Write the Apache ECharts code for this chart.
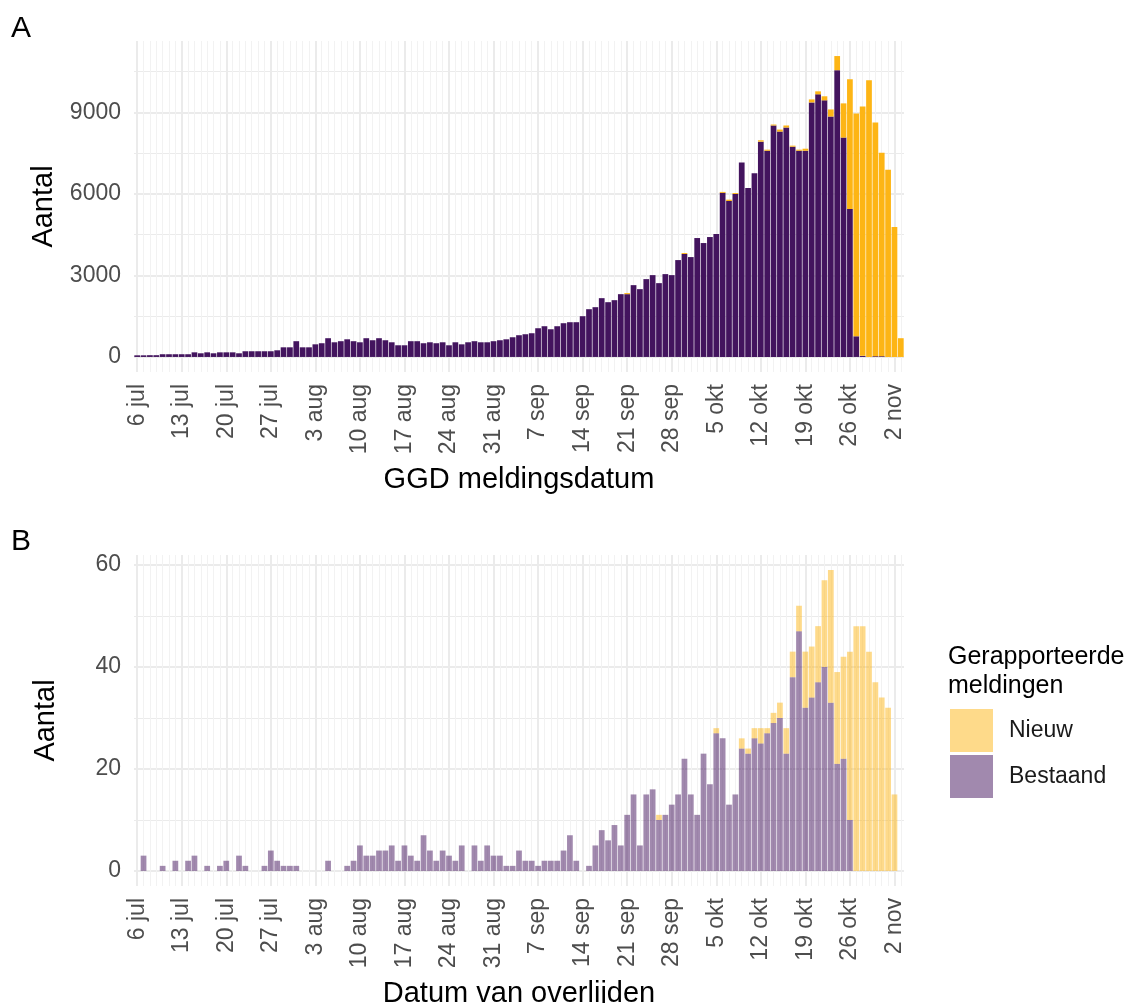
<!DOCTYPE html>
<html>
<head>
<meta charset="utf-8">
<script src="https://cdn.jsdelivr.net/npm/echarts@6/dist/echarts.min.js"></script>
<style>
  html, body { margin: 0; padding: 0; background: #ffffff; }
  #chart { width: 1140px; height: 1003px; }
</style>
</head>
<body>
<div id="chart"></div>
<script>
// Day categories (6 jul .. 3 nov)
const categories = [
  '6 jul','7 jul','8 jul','9 jul','10 jul','11 jul','12 jul','13 jul','14 jul','15 jul','16 jul','17 jul','18 jul','19 jul','20 jul','21 jul','22 jul','23 jul','24 jul','25 jul','26 jul','27 jul','28 jul','29 jul','30 jul','31 jul',
  '1 aug','2 aug','3 aug','4 aug','5 aug','6 aug','7 aug','8 aug','9 aug','10 aug','11 aug','12 aug','13 aug','14 aug','15 aug','16 aug','17 aug','18 aug','19 aug','20 aug','21 aug','22 aug','23 aug','24 aug','25 aug','26 aug','27 aug','28 aug','29 aug','30 aug','31 aug',
  '1 sep','2 sep','3 sep','4 sep','5 sep','6 sep','7 sep','8 sep','9 sep','10 sep','11 sep','12 sep','13 sep','14 sep','15 sep','16 sep','17 sep','18 sep','19 sep','20 sep','21 sep','22 sep','23 sep','24 sep','25 sep','26 sep','27 sep','28 sep','29 sep','30 sep',
  '1 okt','2 okt','3 okt','4 okt','5 okt','6 okt','7 okt','8 okt','9 okt','10 okt','11 okt','12 okt','13 okt','14 okt','15 okt','16 okt','17 okt','18 okt','19 okt','20 okt','21 okt','22 okt','23 okt','24 okt','25 okt','26 okt','27 okt','28 okt','29 okt','30 okt','31 okt',
  '1 nov','2 nov','3 nov'
];

// Panel A: cases by GGD report date
const casesBestaand = [
  60, 60, 65, 65, 100, 100, 100, 100, 100, 170,
  135, 170, 135, 170, 170, 170, 135, 210, 210, 210,
  210, 210, 245, 355, 355, 580, 355, 355, 465, 505,
  690, 540, 580, 650, 580, 540, 690, 615, 690, 615,
  540, 430, 430, 580, 580, 505, 540, 505, 540, 430,
  540, 465, 540, 580, 540, 540, 580, 615, 650, 725,
  800, 836, 873, 1057, 1131, 1020, 1131, 1242, 1279, 1279,
  1500, 1758, 1832, 2164, 2016, 2090, 2311, 2311, 2643, 2496,
  2865, 3012, 2717, 3049, 3012, 3566, 3790, 3676, 4377, 4193,
  4414, 4525, 6040, 5740, 6000, 7160, 6221, 6760, 7925, 7590,
  8520, 8295, 8445, 7740, 7590, 7590, 9370, 9667, 9445, 8850,
  10556, 8074, 5450, 760, 40, 0, 30, 30, 0, 0, 0
];
const casesNieuw = [
  0, 0, 0, 0, 0, 0, 0, 0, 0, 0,
  0, 0, 0, 0, 0, 0, 0, 0, 0, 0,
  0, 0, 0, 0, 0, 0, 0, 0, 0, 0,
  0, 0, 0, 0, 0, 0, 0, 0, 0, 0,
  0, 0, 0, 0, 0, 0, 0, 0, 0, 0,
  0, 0, 0, 0, 0, 0, 0, 0, 0, 0,
  0, 0, 0, 0, 0, 0, 0, 0, 0, 0,
  0, 0, 0, 0, 0, 0, 0, 40, 0, 0,
  0, 0, 0, 0, 0, 0, 35, 0, 0, 0,
  0, 0, 35, 50, 35, 0, 0, 0, 50, 40,
  35, 75, 75, 37, 40, 75, 110, 110, 150, 260,
  520, 1260, 4770, 8200, 9180, 10185, 8600, 7490, 6890, 4780, 690
];

// Panel B: deaths by date of death
const deathsBestaand = [
  0, 3, 0, 0, 1, 0, 2, 0, 2, 3,
  0, 1, 0, 1, 2, 0, 3, 1, 0, 0,
  1, 4, 2, 1, 1, 1, 0, 0, 0, 0,
  2, 0, 0, 1, 2, 5, 3, 3, 4, 4,
  5, 2, 5, 3, 2, 7, 4, 2, 4, 3,
  2, 5, 0, 5, 2, 5, 3, 3, 1, 1,
  4, 2, 2, 1, 2, 2, 2, 4, 7, 2,
  0, 1, 5, 8, 6, 9, 5, 11, 15, 5,
  15, 16, 10, 11, 13, 15, 22, 15, 11, 23,
  17, 27, 26, 13, 15, 24, 23, 26, 25, 27,
  29, 30, 23, 38, 47, 32, 34, 37, 40, 33,
  21, 22, 10, 0, 0, 0, 0, 0, 0, 0, 0
];
const deathsNieuw = [
  0, 0, 0, 0, 0, 0, 0, 0, 0, 0,
  0, 0, 0, 0, 0, 0, 0, 0, 0, 0,
  0, 0, 0, 0, 0, 0, 0, 0, 0, 0,
  0, 0, 0, 0, 0, 0, 0, 0, 0, 0,
  0, 0, 0, 0, 0, 0, 0, 0, 0, 0,
  0, 0, 0, 0, 0, 0, 0, 0, 0, 0,
  0, 0, 0, 0, 0, 0, 0, 0, 0, 0,
  0, 0, 0, 0, 0, 0, 0, 0, 0, 0,
  0, 0, 1, 0, 0, 0, 0, 0, 0, 0,
  0, 1, 0, 0, 0, 2, 1, 2, 3, 1,
  2, 3, 5, 5, 5, 11, 10, 11, 17, 26,
  18, 20, 33, 48, 48, 43, 37, 34, 32, 15, 0
];

const seriesNames = ['Nieuw', 'Bestaand'];
const panelTags = ['A', 'B'];
const xTitles = ['GGD meldingsdatum', 'Datum van overlijden'];
const yTitle = 'Aantal';
const legendTitle = 'Gerapporteerde\nmeldingen';

// colours
const purpleA = '#43145E';
const orangeA = '#FDB515';
const purpleB = 'rgba(67,20,94,0.5)';
const orangeB = 'rgba(253,181,21,0.5)';
const gridColor = '#EBEBEB';
const minorColor = '#F2F2F2';
const tickColor = '#4D4D4D';
const FONT = "'Liberation Sans', Arial, Helvetica, sans-serif";

function totals(a, b) { return a.map((v, i) => v + b[i]); }
const maxA = Math.max(...totals(casesBestaand, casesNieuw));
const maxB = Math.max(...totals(deathsBestaand, deathsNieuw));

function xAxes(gridIndex, title) {
  return [
    {
      type: 'category', gridIndex, data: categories, boundaryGap: true,
      axisLine: { show: false }, axisTick: { show: false },
      axisLabel: { interval: 6, rotate: 90, fontSize: 23, color: tickColor, margin: 12, fontFamily: FONT },
      splitLine: { show: true, interval: 0, alignWithLabel: true, lineStyle: { color: minorColor, width: 1 } },
      name: title, nameLocation: 'middle', nameGap: 93,
      nameTextStyle: { fontSize: 29, color: '#000', fontFamily: FONT }
    },
    {
      type: 'category', gridIndex, data: categories, boundaryGap: true, position: 'bottom',
      axisLine: { show: false }, axisTick: { show: false }, axisLabel: { show: false },
      splitLine: { show: true, interval: 6, alignWithLabel: true, lineStyle: { color: gridColor, width: 2 } }
    }
  ];
}

function yAxis(gridIndex, maxVal, step) {
  return {
    type: 'value', gridIndex,
    min: -0.05 * maxVal, max: 1.05 * maxVal,
    minInterval: step, maxInterval: step,
    axisLine: { show: false }, axisTick: { show: false },
    axisLabel: {
      fontSize: 23, color: tickColor, margin: 13, fontFamily: FONT,
      formatter: v => (Math.abs(v % step) < 1e-9 ? String(v) : '')
    },
    splitLine: { show: true, showMinLine: false, showMaxLine: false, lineStyle: { color: gridColor, width: 2 } },
    minorTick: { show: false, splitNumber: 2 },
    minorSplitLine: { show: true, lineStyle: { color: gridColor, width: 1 } },
    name: yTitle, nameLocation: 'middle', nameGap: 74,
    nameTextStyle: { fontSize: 29, color: '#000', fontFamily: FONT }
  };
}

const chart = echarts.init(document.getElementById('chart'), null, { renderer: 'canvas' });
chart.setOption({
  animation: false,
  backgroundColor: '#ffffff',
  textStyle: { fontFamily: FONT },
  title: [
    { text: panelTags[0], left: 11, top: 14, padding: 0, textStyle: { fontSize: 30, fontWeight: 'normal', color: '#000', fontFamily: FONT } },
    { text: panelTags[1], left: 11, top: 527, padding: 0, textStyle: { fontSize: 30, fontWeight: 'normal', color: '#000', fontFamily: FONT } },
    { text: legendTitle, left: 948, top: 643, padding: 0, textStyle: { fontSize: 25, lineHeight: 29, fontWeight: 'normal', color: '#000', fontFamily: FONT } }
  ],
  grid: [
    { left: 134, top: 41, width: 770, height: 331, containLabel: false, outerBoundsMode: 'none' },
    { left: 134, top: 555, width: 770, height: 331, containLabel: false, outerBoundsMode: 'none' }
  ],
  legend: {
    data: [
      { name: seriesNames[0], itemStyle: { color: orangeB } },
      { name: seriesNames[1], itemStyle: { color: purpleB } }
    ],
    orient: 'vertical', left: 950, top: 709, padding: 0,
    itemWidth: 43, itemHeight: 43, itemGap: 3, icon: 'rect',
    selectedMode: false,
    textStyle: { fontSize: 23, color: '#1A1A1A', fontFamily: FONT, padding: [0, 0, 0, 11] }
  },
  xAxis: [...xAxes(0, xTitles[0]), ...xAxes(1, xTitles[1])],
  yAxis: [yAxis(0, maxA, 3000), yAxis(1, maxB, 20)],
  series: [
    { name: 'Bestaand', type: 'bar', xAxisIndex: 2, yAxisIndex: 1, stack: 'b', barWidth: '90%', data: deathsBestaand, itemStyle: { color: purpleB } },
    { name: 'Nieuw', type: 'bar', xAxisIndex: 2, yAxisIndex: 1, stack: 'b', barWidth: '90%', data: deathsNieuw, itemStyle: { color: orangeB } },
    { name: 'Bestaand', type: 'bar', xAxisIndex: 0, yAxisIndex: 0, stack: 'a', barWidth: '90%', data: casesBestaand, itemStyle: { color: purpleA } },
    { name: 'Nieuw', type: 'bar', xAxisIndex: 0, yAxisIndex: 0, stack: 'a', barWidth: '90%', data: casesNieuw, itemStyle: { color: orangeA } }
  ]
});
</script>
</body>
</html>
